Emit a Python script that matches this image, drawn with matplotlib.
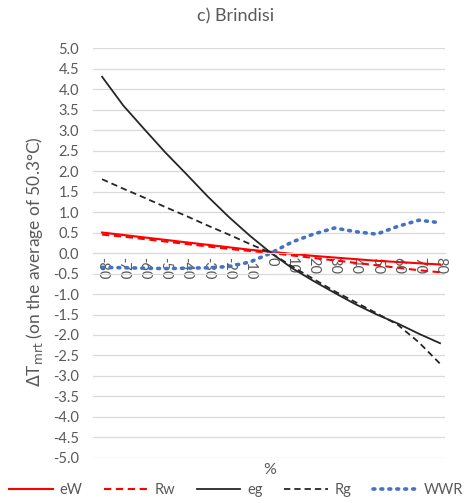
import matplotlib.pyplot as plt
import numpy as np

plt.rcParams['font.family'] = ['Lato', 'DejaVu Sans']

pct = [-80, -70, -60, -50, -40, -30, -20, -10, 0, 10, 20, 30, 40, 50, 60, 70, 80]
tick_labels = [str(p) for p in pct]

eW = [0.50, 0.44, 0.38, 0.32, 0.26, 0.20, 0.14, 0.08, 0.03, -0.02, -0.07, -0.11, -0.15, -0.19, -0.22, -0.25, -0.28]
Rw = [0.45, 0.40, 0.34, 0.28, 0.22, 0.16, 0.10, 0.05, 0.0, -0.06, -0.12, -0.18, -0.24, -0.30, -0.36, -0.42, -0.47]
eg = [4.30, 3.60, 3.02, 2.45, 1.92, 1.38, 0.88, 0.42, 0.0, -0.37, -0.68, -0.97, -1.25, -1.50, -1.72, -1.97, -2.20]
Rg = [1.80, 1.57, 1.35, 1.12, 0.90, 0.67, 0.45, 0.22, 0.0, -0.33, -0.63, -0.93, -1.20, -1.47, -1.75, -2.18, -2.70]
WWR = [-0.35, -0.36, -0.37, -0.38, -0.37, -0.36, -0.33, -0.22, 0.0, 0.27, 0.46, 0.61, 0.52, 0.46, 0.65, 0.80, 0.74]

fig = plt.figure(figsize=(4.72, 5.03), dpi=100)
ax = fig.add_axes([0.197, 0.0895, 0.746, 0.815])

ax.plot(pct, eW, color='#ff0000', lw=1.5, label='eW')
ax.plot(pct, Rw, color='#ff0000', lw=1.5, ls=(0, (3.5, 2.2)), label='Rw')
ax.plot(pct, eg, color='#262626', lw=1.3, label='eg')
ax.plot(pct, Rg, color='#262626', lw=1.3, ls=(0, (3.5, 2.2)), label='Rg')
ax.plot(pct, WWR, color='#4472c4', lw=2.6, ls=(0, (0.5, 1.7)), dash_capstyle='round', label='WWR')

ax.set_xlim(-84.3, 82.4)
ax.set_ylim(-5, 5)
ax.set_yticks(np.arange(-5, 5.01, 0.5))
ax.set_yticklabels(['%.1f' % v for v in np.arange(-5, 5.01, 0.5)])
ax.set_xticks(pct)
ax.set_xticklabels(tick_labels)
ax.tick_params(axis='both', length=0, labelsize=10.5, colors='#595959')
ax.tick_params(axis='y', pad=10)
ax.tick_params(axis='x', pad=3, labelrotation=270)
for lab in ax.get_xticklabels():
    lab.set_ha('center')
    lab.set_va('top')
ax.grid(axis='y', color='#d9d9d9', lw=0.9)
ax.set_axisbelow(True)
for s in ['top', 'right', 'left']:
    ax.spines[s].set_visible(False)
ax.spines['bottom'].set_position(('data', 0))
ax.spines['bottom'].set_color('#d9d9d9')

fig.text(0.5, 0.968, 'c) Brindisi', fontsize=13, color='#595959', ha='center', va='center')
ax.set_ylabel(r'$\Delta$T$_{\rm mrt}$ (on the average of 50.3°C)', fontsize=12.5, color='#595959', labelpad=3)
ax.yaxis.set_label_coords(-0.135, 0.48)
fig.text(0.572, 0.058, '%', fontsize=11.5, color='#595959', ha='center')

fig.legend(loc='lower center', bbox_to_anchor=(0.5, -0.015), ncol=5, frameon=False,
           fontsize=10.5, handlelength=3.0, columnspacing=1.5, handletextpad=0.45,
           labelcolor='#595959')

fig.savefig('out.png', dpi=100)
